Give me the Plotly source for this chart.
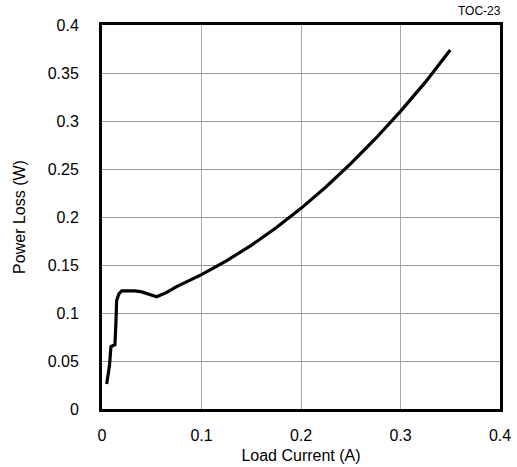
import plotly.graph_objects as go

load_current = [0.0047, 0.0064, 0.0075, 0.009, 0.013, 0.0140, 0.0147, 0.0170, 0.0198, 0.027, 0.033, 0.040, 0.0466, 0.055,
                0.065, 0.075, 0.100, 0.125, 0.150, 0.175, 0.200, 0.225, 0.250, 0.275, 0.300, 0.325, 0.350]
power_loss = [0.026, 0.040, 0.045, 0.065, 0.067, 0.090, 0.113, 0.120, 0.123, 0.123, 0.123, 0.122, 0.120, 0.117,
              0.1215, 0.1275, 0.140, 0.1543, 0.1705, 0.1888, 0.209, 0.2313, 0.2555, 0.2818, 0.310, 0.3405, 0.374]

x_ticks = [0, 0.1, 0.2, 0.3, 0.4]
x_labels = ["0", "0.1", "0.2", "0.3", "0.4"]
y_ticks = [0, 0.05, 0.1, 0.15, 0.2, 0.25, 0.3, 0.35, 0.4]
y_labels = ["0", "0.05", "0.1", "0.15", "0.2", "0.25", "0.3", "0.35", "0.4"]

fig = go.Figure()
fig.add_trace(go.Scatter(x=load_current, y=power_loss, mode="lines",
                         line=dict(color="black", width=3.2), showlegend=False))

fig.update_layout(
    width=517, height=467,
    margin=dict(l=102, r=17, t=25, b=58, autoexpand=False),
    plot_bgcolor="white", paper_bgcolor="white",
    font=dict(family="Liberation Sans, Arial, sans-serif", color="black", size=16),
    xaxis=dict(range=[0, 0.4], tickvals=x_ticks, ticktext=x_labels,
               showgrid=True, gridcolor="#aaaaaa", gridwidth=1,
               showline=True, linecolor="black", linewidth=3, mirror=True,
               ticks="", ticklabelstandoff=10, zeroline=False, automargin=False,
               tickfont=dict(size=16),
               title=dict(text="Load Current (A)", font=dict(size=16), standoff=7)),
    yaxis=dict(range=[0, 0.4], tickvals=y_ticks, ticktext=y_labels,
               showgrid=True, gridcolor="#999999", gridwidth=1,
               showline=True, linecolor="black", linewidth=3, mirror=True,
               ticks="", ticklabelstandoff=17, zeroline=False, automargin=False,
               tickfont=dict(size=16),
               title=dict(text="Power Loss (W)", font=dict(size=16), standoff=19)),
    annotations=[dict(text="TOC-23", xref="paper", yref="paper", x=1.0, y=1.0,
                      xanchor="right", yanchor="bottom", yshift=5, xshift=3,
                      showarrow=False, font=dict(size=12))],
)

fig.write_html("out.html", config={"displayModeBar": False},
               post_script="document.body.style.margin='0px';document.body.style.overflow='hidden';")
